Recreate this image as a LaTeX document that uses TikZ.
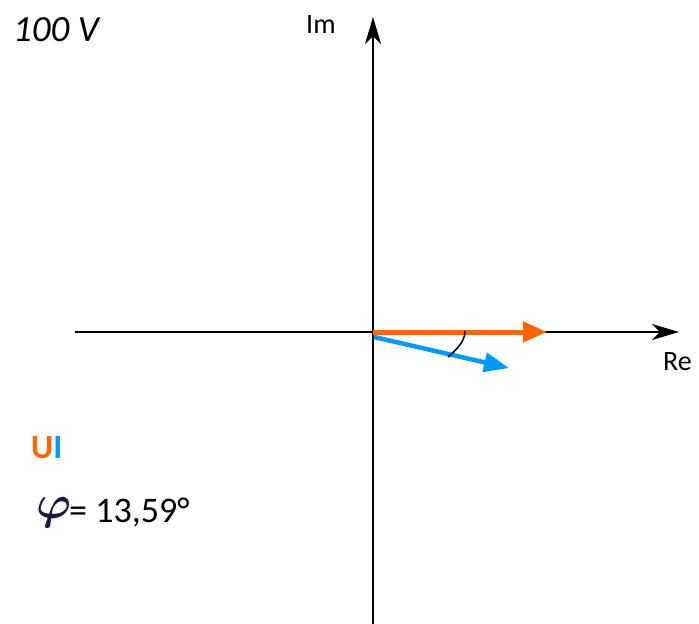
\documentclass[tikz,border=0pt]{standalone}
\usepackage{fontspec}
\setmainfont{Carlito}
\usetikzlibrary{arrows.meta}
\definecolor{uorange}{HTML}{FF6600}
\definecolor{iblue}{HTML}{0099FF}
\definecolor{phicol}{HTML}{1A1A40}
\begin{document}
\begin{tikzpicture}[x=1pt,y=-1pt,
  axis/.style={line width=2pt,-{Stealth[length=27pt,width=16pt,inset=8pt]}},
  phasor/.style={line width=5pt,-{Triangle[length=24pt,width=20pt]}},
  lbl/.style={inner sep=0pt,anchor=base west,font=\fontsize{28}{30}\selectfont}]
\useasboundingbox (0,0) rectangle (699,624);
\coordinate (O) at (373,332);
\coordinate (xl) at (75,332);
\coordinate (xr) at (679,332);
\coordinate (yb) at (373,624);
\coordinate (yt) at (373,17);
\draw[axis] (xl) -- (xr);
\draw[axis] (yb) -- (yt);
\coordinate (Ue) at (547,332);
\coordinate (Is) at (374,337);
\coordinate (Ie) at (509,368);
\draw[phasor,uorange] (O) -- (Ue);
\draw[line width=4.5pt,iblue,-{Triangle[length=25pt,width=19pt]}] (Is) -- (Ie);
\coordinate (a1) at (465,331);
\coordinate (a2) at (448,357);
\draw[line width=1.5pt] (a1) .. controls (465,342) and (456,350) .. (a2);
\node[lbl,font=\fontsize{37}{40}\selectfont\itshape] (volt) at (13,41) {100 V};
\node[lbl] (im) at (306,33) {Im};
\node[lbl] (re) at (663,370) {Re};
\node[lbl,font=\fontsize{34}{36}\selectfont\bfseries] (ui) at (31,458) {\textcolor{uorange}{U}\textcolor{iblue}{I}};
\node[inner sep=0pt,anchor=base west,text=phicol] (phi) at (36,518) {\scalebox{4.7}{\boldmath$\varphi$}};
\node[lbl,font=\fontsize{36}{38}\selectfont] (val) at (69,522) {= 13,59°};
\end{tikzpicture}
\end{document}
